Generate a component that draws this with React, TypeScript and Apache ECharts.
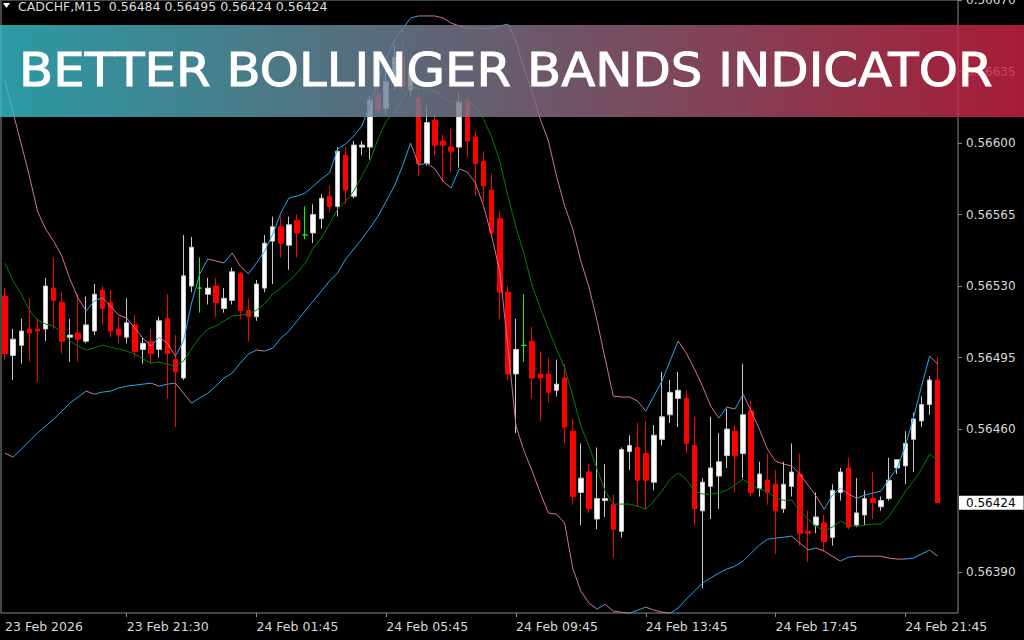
import React, { useEffect, useRef } from "react";
import * as echarts from "echarts";

// ---- Data (CADCHF, M15) ----
const open = [
  0.56525, 0.56496, 0.56501, 0.56509, 0.56509, 0.56509, 0.56529, 0.56522, 0.56505, 0.56507,
  0.56503, 0.56508, 0.56528, 0.56522, 0.56509, 0.56505, 0.56511, 0.56499, 0.56503, 0.56499,
  0.56514, 0.56494, 0.56485, 0.5653, 0.56529, 0.56526, 0.5653, 0.56519, 0.56523, 0.56536,
  0.56518, 0.56515, 0.56529, 0.56552, 0.56559, 0.5655, 0.56562, 0.56555, 0.56556, 0.56563,
  0.56574, 0.56569, 0.56594, 0.56574, 0.56598, 0.56598, 0.56624, 0.56617, 0.5663, 0.56642,
  0.56626, 0.56622, 0.5659, 0.56611, 0.56601, 0.56598, 0.56598, 0.5662, 0.56603, 0.56591,
  0.56577, 0.56563, 0.56527, 0.56487, 0.56501, 0.56503, 0.56487, 0.56487, 0.56479, 0.56485,
  0.56459, 0.56429, 0.56439, 0.56416, 0.56425, 0.56423, 0.5641, 0.56449, 0.56451, 0.56448,
  0.56434, 0.56455, 0.56467, 0.56475, 0.56475, 0.56452, 0.5642, 0.56432, 0.56437, 0.56447,
  0.56459, 0.56448, 0.56469, 0.56431, 0.56435, 0.56433, 0.56421, 0.56432, 0.56438, 0.5641,
  0.56413, 0.56414, 0.56407, 0.56429, 0.56441, 0.56413, 0.56418, 0.56426, 0.56422, 0.56426,
  0.56441, 0.56442, 0.56455, 0.56464, 0.56472, 0.56484,
];
const high = [
  0.56529, 0.56509, 0.56514, 0.56524, 0.56514, 0.56534, 0.56544, 0.56527, 0.56514, 0.56526,
  0.56525, 0.56531, 0.5653, 0.56528, 0.56515, 0.56524, 0.56516, 0.56505, 0.56509, 0.56515,
  0.56526, 0.56506, 0.56555, 0.56554, 0.56544, 0.56534, 0.56534, 0.56529, 0.56539, 0.56537,
  0.56524, 0.56533, 0.56555, 0.56564, 0.56564, 0.56564, 0.56565, 0.56569, 0.5657, 0.56575,
  0.56579, 0.56598, 0.56598, 0.56601, 0.56601, 0.56623, 0.56628, 0.56637, 0.56648, 0.5665,
  0.5664, 0.56625, 0.56618, 0.56614, 0.56604, 0.56607, 0.56625, 0.56623, 0.56606, 0.56596,
  0.56585, 0.56567, 0.5653, 0.56514, 0.56526, 0.5651, 0.56498, 0.56495, 0.56494, 0.56492,
  0.56465, 0.56453, 0.56443, 0.56451, 0.56443, 0.56428, 0.56451, 0.56457, 0.56463, 0.56464,
  0.56462, 0.56488, 0.56484, 0.56488, 0.56479, 0.56466, 0.56436, 0.56466, 0.56458, 0.5647,
  0.56462, 0.56492, 0.56474, 0.56444, 0.56448, 0.5644, 0.56444, 0.56453, 0.56448, 0.5642,
  0.56429, 0.56418, 0.56433, 0.56441, 0.56446, 0.56436, 0.5643, 0.56439, 0.56427, 0.56446,
  0.56445, 0.56459, 0.56468, 0.56476, 0.56486, 0.56495,
];
const low = [
  0.56494, 0.56484, 0.56492, 0.56493, 0.56483, 0.56503, 0.56509, 0.56497, 0.56493, 0.56493,
  0.56502, 0.56506, 0.56511, 0.56505, 0.56502, 0.56502, 0.56495, 0.56492, 0.56492, 0.56495,
  0.56475, 0.56461, 0.56484, 0.56527, 0.56517, 0.56521, 0.56515, 0.56517, 0.56521, 0.56514,
  0.56503, 0.56513, 0.56527, 0.56531, 0.56544, 0.56538, 0.56544, 0.56553, 0.56551, 0.56558,
  0.56566, 0.56564, 0.5657, 0.56573, 0.56594, 0.56592, 0.56615, 0.56614, 0.56626, 0.56625,
  0.56623, 0.56584, 0.56589, 0.56594, 0.56581, 0.56586, 0.56588, 0.56593, 0.56574, 0.56571,
  0.56554, 0.56514, 0.56484, 0.56458, 0.56493, 0.56475, 0.56464, 0.56473, 0.56476, 0.56453,
  0.56423, 0.56413, 0.56419, 0.56411, 0.56417, 0.56397, 0.56407, 0.5644, 0.56422, 0.56421,
  0.5643, 0.56452, 0.56463, 0.56461, 0.56448, 0.56413, 0.56382, 0.56416, 0.56421, 0.56441,
  0.56429, 0.56436, 0.56427, 0.56427, 0.56423, 0.56399, 0.56419, 0.56427, 0.56403, 0.56395,
  0.56409, 0.564, 0.56403, 0.56425, 0.56411, 0.56412, 0.56413, 0.56416, 0.5642, 0.56425,
  0.56438, 0.56433, 0.56439, 0.56461, 0.56467, 0.56424,
];
const close = [
  0.56497, 0.56504, 0.56508, 0.56507, 0.56508, 0.5653, 0.56523, 0.56503, 0.56506, 0.56504,
  0.56511, 0.56526, 0.56519, 0.56508, 0.56506, 0.56512, 0.56498, 0.56502, 0.56497, 0.56513,
  0.56497, 0.56488, 0.56535, 0.56549, 0.56529, 0.56529, 0.56522, 0.56524, 0.56537, 0.56518,
  0.56515, 0.56531, 0.56551, 0.56559, 0.56551, 0.5656, 0.56556, 0.56555, 0.56565, 0.56573,
  0.56569, 0.56596, 0.56577, 0.56599, 0.56599, 0.56621, 0.56616, 0.5663, 0.56642, 0.56628,
  0.56635, 0.5659, 0.5661, 0.56599, 0.56599, 0.56596, 0.5662, 0.56601, 0.5659, 0.56579,
  0.56556, 0.56527, 0.56487, 0.56499, 0.56501, 0.56485, 0.56485, 0.56478, 0.56482, 0.56461,
  0.56427, 0.56436, 0.56421, 0.56426, 0.56426, 0.56411, 0.5645, 0.56452, 0.56435, 0.56435,
  0.56457, 0.56466, 0.56478, 0.56479, 0.56453, 0.56421, 0.56434, 0.56441, 0.56444, 0.5646,
  0.56447, 0.56467, 0.56429, 0.56438, 0.56429, 0.5642, 0.56433, 0.56439, 0.56409, 0.56409,
  0.56417, 0.56405, 0.5643, 0.56439, 0.56412, 0.56419, 0.56426, 0.56424, 0.56425, 0.56435,
  0.56445, 0.56453, 0.56465, 0.56472, 0.56484, 0.56424,
];

const bandMiddle = [
  0.565412, 0.565324, 0.565261, 0.565182, 0.565134, 0.565114, 0.565104, 0.565075, 0.565031, 0.565006,
  0.564987, 0.564997, 0.565011, 0.565001, 0.564992, 0.564982, 0.564967, 0.564943, 0.564923, 0.564928,
  0.564918, 0.564908, 0.564933, 0.564992, 0.56505, 0.56509, 0.565104, 0.565129, 0.565153, 0.565158,
  0.565163, 0.565182, 0.565212, 0.565261, 0.56529, 0.565324, 0.565364, 0.565412, 0.565486, 0.565535,
  0.565603, 0.565677, 0.565716, 0.565765, 0.565838, 0.565912, 0.56602, 0.566108, 0.566147, 0.566215,
  0.566279, 0.566264, 0.566264, 0.566254, 0.566225, 0.566196, 0.566215, 0.566206, 0.566176, 0.566117,
  0.566029, 0.565912, 0.56574, 0.565589, 0.565457, 0.5653, 0.565192, 0.56509, 0.564992, 0.564899,
  0.564761, 0.564615, 0.564517, 0.564404, 0.564296, 0.564233, 0.564233, 0.564233, 0.564223, 0.564208,
  0.564248, 0.564296, 0.564355, 0.564385, 0.564355, 0.564296, 0.564282, 0.564282, 0.564287, 0.564301,
  0.564326, 0.564355, 0.564326, 0.564306, 0.564296, 0.564262, 0.564252, 0.564252, 0.564199, 0.564159,
  0.564125, 0.564101, 0.56412, 0.564149, 0.56413, 0.564125, 0.56413, 0.564135, 0.564135, 0.564174,
  0.564233, 0.564296, 0.564345, 0.564404, 0.564478, 0.564448,
];
const bandUpper = [
  0.566303, 0.566147, 0.565995, 0.565838, 0.565667, 0.565579, 0.56552, 0.565447, 0.565334, 0.565242,
  0.565178, 0.565227, 0.565242, 0.565202, 0.565158, 0.565143, 0.565094, 0.565045, 0.565006, 0.56505,
  0.565021, 0.564957, 0.565031, 0.565217, 0.565359, 0.565432, 0.565423, 0.565413, 0.565462, 0.565398,
  0.565359, 0.565413, 0.565471, 0.565554, 0.565657, 0.565731, 0.565741, 0.565755, 0.565789, 0.565824,
  0.565853, 0.565971, 0.565995, 0.566034, 0.566083, 0.566191, 0.566303, 0.566416, 0.566499, 0.566558,
  0.566612, 0.566622, 0.566622, 0.566622, 0.566612, 0.566587, 0.566573, 0.566563, 0.566563, 0.566558,
  0.566563, 0.566573, 0.566582, 0.566499, 0.566362, 0.566245, 0.566117, 0.56601, 0.565838, 0.565692,
  0.565579, 0.565422, 0.565295, 0.565129, 0.564943, 0.564761, 0.564757, 0.564757, 0.564737, 0.564688,
  0.564761, 0.564835, 0.564933, 0.565031, 0.564972, 0.564894, 0.56481, 0.564713, 0.564654, 0.564708,
  0.564698, 0.564771, 0.564688, 0.5646, 0.564502, 0.564443, 0.564429, 0.564419, 0.56438, 0.564326,
  0.564272, 0.564208, 0.564277, 0.564311, 0.564282, 0.564262, 0.564277, 0.564287, 0.564296, 0.564355,
  0.564409, 0.564517, 0.564654, 0.56481, 0.564957, 0.564918,
];
const bandLower = [
  0.564482, 0.564463, 0.564502, 0.564541, 0.56458, 0.564615, 0.564649, 0.564688, 0.564727, 0.564757,
  0.564786, 0.564771, 0.564781, 0.564786, 0.564801, 0.56481, 0.564815, 0.56482, 0.564825, 0.56481,
  0.56482, 0.564825, 0.564776, 0.564727, 0.564752, 0.564776, 0.56481, 0.56485, 0.564874, 0.564923,
  0.564967, 0.564987, 0.564982, 0.564996, 0.565045, 0.56508, 0.565129, 0.565178, 0.565227, 0.565275,
  0.565324, 0.565364, 0.565432, 0.565481, 0.565531, 0.565584, 0.565643, 0.565716, 0.565789, 0.565887,
  0.566, 0.565892, 0.565902, 0.565873, 0.565814, 0.56578, 0.565873, 0.565858, 0.565804, 0.565692,
  0.565545, 0.565373, 0.565006, 0.564615, 0.564492, 0.564394, 0.564287, 0.564189, 0.564184, 0.56414,
  0.563919, 0.563807, 0.563748, 0.563719, 0.563743, 0.563709, 0.563704, 0.563699, 0.563714, 0.563729,
  0.563714, 0.563704, 0.563699, 0.563724, 0.563768, 0.563807, 0.563846, 0.563871, 0.563895, 0.563915,
  0.563929, 0.563954, 0.563993, 0.564032, 0.564061, 0.564066, 0.564071, 0.564076, 0.564042, 0.564008,
  0.564018, 0.564003, 0.563978, 0.563954, 0.563973, 0.563978, 0.563978, 0.563978, 0.563978, 0.563969,
  0.563964, 0.563964, 0.563969, 0.563988, 0.564008, 0.563978,
];

// time-axis labels and the bar index each one sits on
const timeLabels = [
  "23 Feb 2026", "23 Feb 21:30", "24 Feb 01:45", "24 Feb 05:45",
  "24 Feb 09:45", "24 Feb 13:45", "24 Feb 17:45", "24 Feb 21:45",
];
const timeLabelBars = [0, 15, 31, 47, 63, 79, 95, 111];
const priceTicks = [0.5639, 0.5646, 0.56495, 0.5653, 0.56565, 0.566, 0.56635, 0.5667];
const lastPrice = 0.56424;
const headerText = "CADCHF,M15  0.56484 0.56495 0.56424 0.56424";
const bannerText = "BETTER BOLLINGER BANDS INDICATOR";
const slotCount = 118; // bars + right shift space

const BLUE = "#22aaee";
const PINK = "#d9709a";
const FONT = "DejaVu Sans";
const PRICE_MIN = 0.5637;
const PRICE_MAX = 0.5667;

function bandSeries(name: string, values: number[]) {
  return {
    type: "custom",
    name,
    silent: true,
    z: 4,
    data: values.slice(0, -1).map((v, i) => [i, v, values[i + 1]]),
    encode: { x: 0, y: [1, 2] },
    renderItem: (_params: any, api: any) => {
      const i = api.value(0);
      const a = api.value(1);
      const b = api.value(2);
      const p0 = api.coord([i, a]);
      const p1 = api.coord([i + 1, b]);
      return {
        type: "line",
        shape: { x1: p0[0], y1: p0[1], x2: p1[0], y2: p1[1] },
        style: { stroke: b > a ? BLUE : PINK, lineWidth: 1 },
      };
    },
  };
}

export default function App() {
  const ref = useRef<HTMLDivElement>(null);
  useEffect(() => {
    if (!ref.current) return;
    const chart = echarts.init(ref.current, null, { renderer: "svg" });
    const categories = Array.from({ length: slotCount }, (_, i) => String(i));
    const candles = open.map((o, i) => [o, close[i], low[i], high[i]]);
    const labelAt: Record<number, string> = {};
    timeLabelBars.forEach((b, k) => (labelAt[b] = timeLabels[k]));

    chart.setOption({
      animation: false,
      backgroundColor: "#000000",
      title: {
        text: headerText,
        left: 18,
        top: 0,
        padding: 0,
        textStyle: { color: "#dcdcdc", fontSize: 12.5, fontWeight: "normal", fontFamily: FONT },
      },
      grid: {
        left: 1,
        right: 66,
        top: 0,
        bottom: 27,
        outerBoundsMode: "none",
        containLabel: false,
        show: true,
        backgroundColor: "#000000",
        borderColor: "#8a8a8a",
        borderWidth: 1,
      },
      xAxis: {
        type: "category",
        data: categories,
        boundaryGap: true,
        axisLine: { show: false },
        splitLine: { show: false },
        axisTick: {
          show: true,
          alignWithLabel: true,
          length: 4,
          interval: (idx: number) => idx !== 0 && labelAt[idx] !== undefined,
          lineStyle: { color: "#8a8a8a" },
        },
        axisLabel: {
          interval: (idx: number) => labelAt[idx] !== undefined,
          formatter: (_v: string, idx: number) => labelAt[idx] ?? "",
          align: "left",
          margin: 7,
          color: "#d8d8d8",
          fontSize: 12.5,
          fontFamily: FONT,
        },
      },
      yAxis: [
        {
          type: "value",
          position: "right",
          min: PRICE_MIN,
          max: PRICE_MAX,
          scale: true,
          splitLine: { show: false },
          axisLine: { show: false },
          axisTick: { show: true, length: 4, customValues: priceTicks, lineStyle: { color: "#8a8a8a" } },
          axisLabel: {
            customValues: priceTicks,
            formatter: (v: number) => v.toFixed(5),
            color: "#d8d8d8",
            fontSize: 12,
            fontFamily: FONT,
            margin: 8,
          },
        },
        {
          // current-price marker on the price scale
          type: "value",
          position: "right",
          min: PRICE_MIN,
          max: PRICE_MAX,
          scale: true,
          splitLine: { show: false },
          axisLine: { show: false },
          axisTick: { show: false },
          axisLabel: {
            customValues: [lastPrice],
            formatter: (v: number) => v.toFixed(5),
            color: "#000000",
            backgroundColor: "#ffffff",
            padding: [1, 8, 1, 7],
            fontSize: 12,
            fontFamily: FONT,
            margin: 1,
          },
        },
      ],
      series: [
        {
          type: "candlestick",
          name: "CADCHF",
          data: candles,
          barWidth: 5,
          z: 2,
          itemStyle: {
            color: "#ffffff",
            color0: "#ff0000",
            borderColor: "#c8c8c8",
            borderColor0: "#ff0000",
            borderColorDoji: "#00ff00",
            borderWidth: 1,
          },
        },
        {
          type: "line",
          name: "Middle",
          data: bandMiddle,
          symbol: "none",
          silent: true,
          z: 4,
          lineStyle: { color: "#008000", width: 1 },
        },
        bandSeries("Upper", bandUpper),
        bandSeries("Lower", bandLower),
      ],
      graphic: [
        {
          type: "polygon",
          z: 50,
          shape: { points: [[3, 3], [10, 3], [6.5, 8]] },
          style: { fill: "#ffffff" },
        },
        {
          type: "rect",
          z: 100,
          shape: { x: 0, y: 25, width: 1024, height: 92 },
          style: {
            fill: {
              type: "linear",
              x: 0,
              y: 0,
              x2: 1,
              y2: 0,
              colorStops: [
                { offset: 0, color: "rgba(52,188,200,0.82)" },
                { offset: 1, color: "rgba(204,34,66,0.82)" },
              ],
            },
          },
        },
        {
          type: "text",
          z: 101,
          x: 19,
          y: 70,
          scaleX: 1.06,
          style: {
            text: bannerText,
            fill: "#ffffff",
            stroke: "#ffffff",
            lineWidth: 1,
            fontSize: 47,
            fontWeight: "normal",
            fontFamily: FONT,
            verticalAlign: "middle",
            align: "left",
          },
        },
      ],
    });
    return () => chart.dispose();
  }, []);
  return (
    <div
      ref={ref}
      style={{ position: "fixed", left: 0, top: 0, width: 1024, height: 640, background: "#000" }}
    />
  );
}
